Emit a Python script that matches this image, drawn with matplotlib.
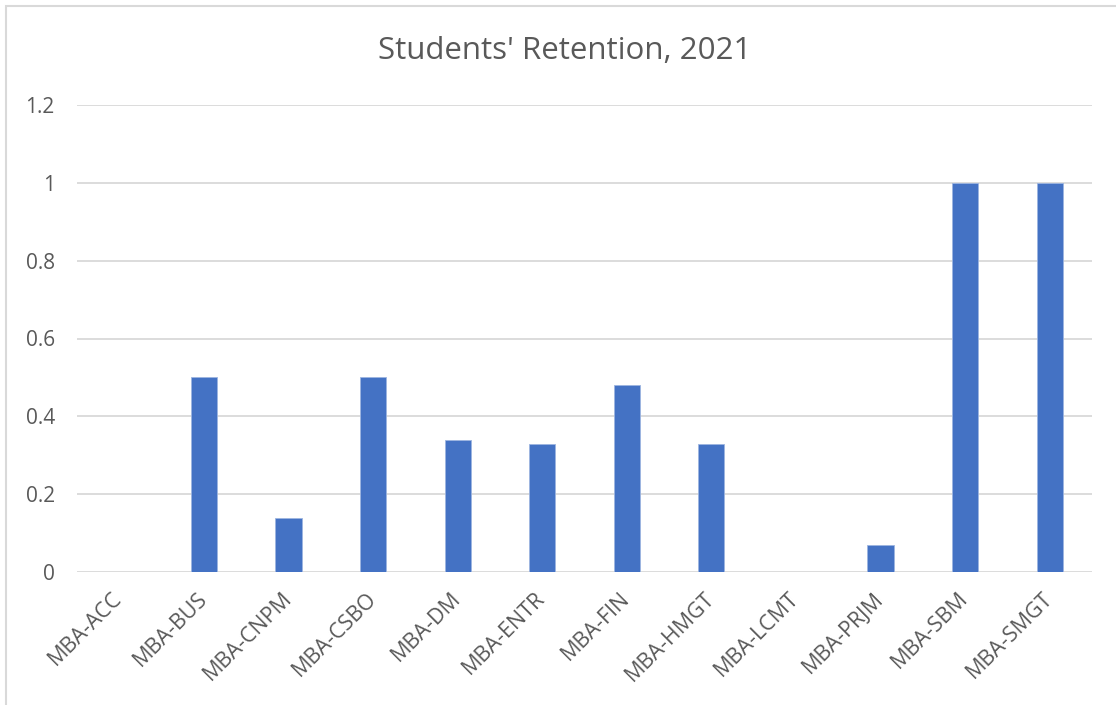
import matplotlib
matplotlib.use("Agg")
import matplotlib.pyplot as plt
from matplotlib.patches import Rectangle

categories = ["MBA-ACC", "MBA-BUS", "MBA-CNPM", "MBA-CSBO", "MBA-DM", "MBA-ENTR",
              "MBA-FIN", "MBA-HMGT", "MBA-LCMT", "MBA-PRJM", "MBA-SBM", "MBA-SMGT"]
retention = [0, 0.5, 0.14, 0.5, 0.34, 0.33, 0.48, 0.33, 0, 0.07, 1, 1]
y_ticks = [0, 0.2, 0.4, 0.6, 0.8, 1.0, 1.2]
y_tick_labels = ["0", "0.2", "0.4", "0.6", "0.8", "1", "1.2"]
title = "Students' Retention, 2021"

plt.rcParams['font.family'] = ['Open Sans', 'DejaVu Sans']
text_color = "#595959"
grid_color = "#D9D9D9"
bar_color = "#4472C4"

fig = plt.figure(figsize=(11.16, 7.05), dpi=100)
ax = fig.add_axes([77 / 1116, 1 - 572 / 705, (1092 - 77) / 1116, (572 - 105) / 705])

x = list(range(len(categories)))
ax.bar(x, retention, width=0.31, color=bar_color, edgecolor="#9DB5E0", linewidth=0.6, zorder=3)

ax.set_xlim(-0.5, len(categories) - 0.5)
ax.set_ylim(0, 1.2)
ax.set_yticks(y_ticks)
ax.set_yticklabels(y_tick_labels)
ax.yaxis.grid(True, color=grid_color, linewidth=1.3, zorder=0)
ax.set_axisbelow(True)
for s in ax.spines.values():
    s.set_visible(False)
ax.tick_params(axis='y', length=0, pad=16, labelsize=15, labelcolor=text_color)
ax.set_xticks(x)
ax.set_xticklabels(categories, rotation=45, ha='right', va='center', rotation_mode='anchor',
                   fontsize=15.5, color=text_color)
ax.tick_params(axis='x', length=0, pad=17)

fig.text(565 / 1116, 1 - 51 / 705, title, ha='center', va='center', fontsize=22.5, color=text_color)

# outer chart border (partial frame like the screenshot)
fig.add_artist(Rectangle((6 / 1116, -0.05), 1.2, 1 - 6 / 705 + 0.05, transform=fig.transFigure,
                         fill=False, edgecolor="#D9D9D9", linewidth=1.5))

fig.savefig("out.png", dpi=100, facecolor="white")
